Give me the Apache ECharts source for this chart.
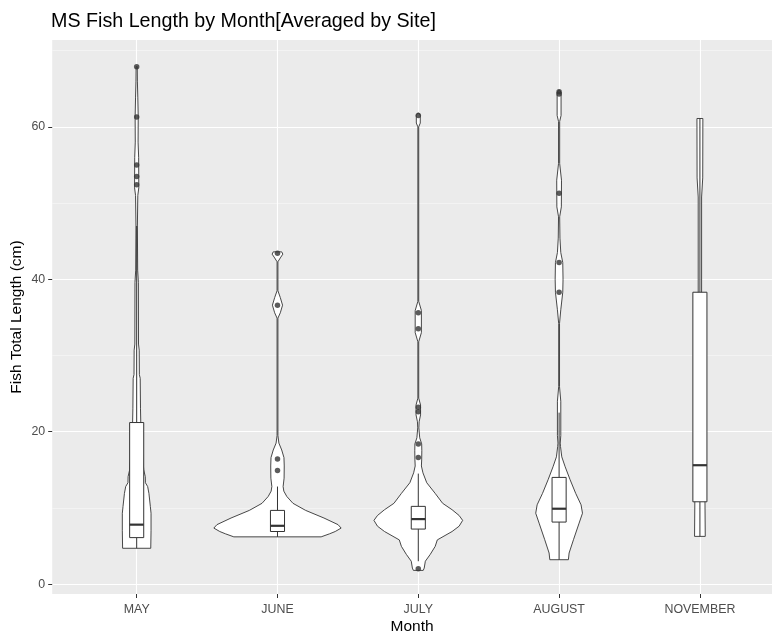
<!DOCTYPE html>
<html>
<head>
<meta charset="utf-8">
<script src="https://cdn.jsdelivr.net/npm/echarts@6/dist/echarts.min.js"></script>
<style>
html,body{margin:0;padding:0;background:#fff;}
#chart{width:772px;height:635px;}
</style>
</head>
<body>
<div id="chart"></div>
<script>
// ---- data ----
const months = ['MAY', 'JUNE', 'JULY', 'AUGUST', 'NOVEMBER'];
const yMajorTicks = [0, 20, 40, 60];
const yMinorTicks = [10, 30, 50, 70];

// violin outlines: [length (cm), half width in category units]
const mayViolin = [[4.7,0.100],[7,0.102],[9.3,0.102],[10.2,0.097],[11.9,0.087],[12.8,0.078],[13.3,0.062],[14.1,0.061],[15,0.05],[17,0.042],[19,0.035],[21.2,0.029],[23,0.027],[27,0.025],[27.5,0.019],[30.7,0.018],[31.5,0.013],[39.6,0.012],[41.2,0.007],[47,0.005],[51,0.008],[52,0.015],[56,0.014],[58,0.010],[61.3,0.011],[63.9,0.008],[66,0.005],[67.9,0.004]];
const juneViolin = [[6.2,0.31],[6.6,0.37],[6.9,0.41],[7.35,0.452],[7.8,0.43],[8.67,0.33],[9.67,0.2],[10.6,0.11],[11.5,0.066],[12.2,0.045],[12.8,0.040],[13.9,0.047],[15.5,0.048],[16.6,0.046],[17.6,0.03],[18.5,0.01],[19.5,0.003],[34.9,0.003],[35.6,0.02],[36.6,0.036],[37.6,0.02],[38.5,0.003],[42.3,0.003],[42.8,0.02],[43.3,0.038],[43.6,0.03]];
const julyViolin = [[1.8,0.035],[2.1,0.042],[3.0,0.05],[3.9,0.085],[4.95,0.12],[5.8,0.135],[6.9,0.24],[7.6,0.29],[8.36,0.315],[9.0,0.29],[9.76,0.24],[10.6,0.173],[11.9,0.12],[13.3,0.06],[14.6,0.033],[15.5,0.022],[16.3,0.024],[17.5,0.025],[18.4,0.024],[19.2,0.01],[20.5,0.004],[21.3,0.006],[22.2,0.016],[23.5,0.016],[24.4,0.003],[31.8,0.003],[33,0.022],[35.9,0.022],[37.1,0.003],[60.0,0.003],[60.5,0.014],[61.5,0.014],[61.8,0.005]];
const augustViolin = [[3.2,0.066],[4.08,0.071],[5.82,0.102],[8.0,0.142],[9.3,0.166],[10.4,0.156],[11.9,0.118],[13.7,0.078],[15.4,0.043],[16.7,0.019],[18.06,0.01],[18.5,0.008],[19.5,0.012],[24,0.012],[25.9,0.003],[34.2,0.003],[36,0.012],[38.3,0.026],[40,0.028],[42.2,0.026],[43.5,0.012],[45.4,0.006],[48.2,0.004],[49.5,0.016],[53,0.017],[55.2,0.004],[60.7,0.004],[61.5,0.014],[64.5,0.014],[64.8,0.005]];
const novemberViolin = [[6.26,0.038],[10.8,0.036],[20,0.025],[30,0.015],[38.3,0.012],[50.8,0.012],[53.3,0.02],[61.1,0.021]];

// box plot statistics
const whiskerLow  = [4.7, 6.2, 3.0, 3.2, 6.26];
const boxQ1       = [6.1, 6.9, 7.22, 8.14, 10.8];
const boxMedian   = [7.8, 7.65, 8.53, 9.89, 15.6];
const boxQ3       = [21.2, 9.67, 10.2, 14.0, 38.3];
const whiskerHigh = [47, 12.8, 14.5, 22.5, 61.1];

// outliers
const mayOutliers = [52.4, 53.5, 55.0, 61.3, 67.9];
const juneOutliers = [14.9, 16.4, 36.6, 43.4];
const julyOutliers = [2.0, 16.6, 18.4, 22.6, 23.2, 33.5, 35.6, 61.5];
const augustOutliers = [38.3, 42.2, 51.3, 64.3, 64.6];
const novemberOutliers = [];

// ---- build ----
const violins = [mayViolin, juneViolin, julyViolin, augustViolin, novemberViolin];
const outlierSets = [mayOutliers, juneOutliers, julyOutliers, augustOutliers, novemberOutliers];
const boxData = months.map((m, i) => [i, whiskerLow[i], boxQ1[i], boxMedian[i], boxQ3[i], whiskerHigh[i]]);
const outlierData = [];
outlierSets.forEach((arr, i) => arr.forEach(v => outlierData.push([i, v])));

const INK = '#333333';
const FONT = "'Liberation Sans', Arial, Helvetica, sans-serif";
const BOX_HALF = 0.05;

function renderViolin(params, api) {
  const i = api.value(0);
  const prof = violins[i];
  const right = prof.map(p => api.coord([i + p[1], p[0]]));
  const left = prof.slice().reverse().map(p => api.coord([i - p[1], p[0]]));
  return {
    type: 'polygon',
    shape: { points: right.concat(left) },
    style: { fill: '#ffffff', stroke: INK, lineWidth: 0.9 }
  };
}

function renderBox(params, api) {
  const i = api.value(0);
  const lo = api.coord([i, api.value(1)]);
  const q1 = api.coord([i, api.value(2)]);
  const md = api.coord([i, api.value(3)]);
  const q3 = api.coord([i, api.value(4)]);
  const hi = api.coord([i, api.value(5)]);
  const xl = api.coord([i - BOX_HALF, 0])[0];
  const xr = api.coord([i + BOX_HALF, 0])[0];
  const lineStyle = { stroke: INK, lineWidth: 1 };
  return {
    type: 'group',
    children: [
      { type: 'line', shape: { x1: lo[0], y1: lo[1], x2: q1[0], y2: q1[1] }, style: lineStyle },
      { type: 'line', shape: { x1: q3[0], y1: q3[1], x2: hi[0], y2: hi[1] }, style: lineStyle },
      { type: 'rect', shape: { x: xl, y: q3[1], width: xr - xl, height: q1[1] - q3[1] },
        style: { fill: '#ffffff', stroke: INK, lineWidth: 1 } },
      { type: 'line', shape: { x1: xl, y1: md[1], x2: xr, y2: md[1] }, style: { stroke: INK, lineWidth: 2.2 } }
    ]
  };
}

const chart = echarts.init(document.getElementById('chart'), null, { renderer: 'canvas' });
chart.setOption({
  animation: false,
  backgroundColor: '#ffffff',
  title: {
    text: 'MS Fish Length by Month[Averaged by Site]',
    left: 51, top: 12, padding: 0,
    textStyle: { fontFamily: FONT, fontSize: 19.7, fontWeight: 'normal', color: '#000' }
  },
  grid: {
    left: 52.2, top: 40, right: 0, height: 554,
    show: true, backgroundColor: '#EBEBEB', borderWidth: 0,
    containLabel: false, outerBoundsMode: 'none'
  },
  xAxis: {
    type: 'value', min: -0.6, max: 4.512,
    name: 'Month', nameLocation: 'middle', nameGap: 25, nameMoveOverlap: false,
    nameTextStyle: { fontFamily: FONT, fontSize: 15.5, color: '#000' },
    axisLine: { show: false, onZero: false },
    axisTick: { show: true, length: 4, lineStyle: { color: INK, width: 1 }, customValues: [0, 1, 2, 3, 4] },
    axisLabel: { show: true, margin: 10, color: '#4D4D4D', fontFamily: FONT, fontSize: 12.4,
      customValues: [0, 1, 2, 3, 4], formatter: v => months[Math.round(v)] },
    splitLine: { show: true, lineStyle: { color: '#ffffff', width: 1.1 } },
    minorSplitLine: { show: false }
  },
  yAxis: [{
    type: 'value', min: -1.3, max: 71.4,
    name: 'Fish Total Length (cm)', nameLocation: 'middle', nameGap: 27, nameRotate: 90, nameMoveOverlap: false,
    nameTextStyle: { fontFamily: FONT, fontSize: 15.5, color: '#000' },
    axisLine: { show: false, onZero: false },
    axisTick: { show: true, length: 4, lineStyle: { color: INK, width: 1 }, customValues: yMajorTicks },
    axisLabel: { show: true, margin: 7, color: '#4D4D4D', fontFamily: FONT, fontSize: 12.4, customValues: yMajorTicks },
    splitLine: { show: true, lineStyle: { color: '#ffffff', width: 1.1 } }
  }, {
    type: 'value', min: -1.3, max: 71.4, position: 'left',
    axisLine: { show: false, onZero: false },
    axisTick: { show: false, customValues: yMinorTicks },
    axisLabel: { show: false, customValues: yMinorTicks },
    splitLine: { show: true, lineStyle: { color: '#F7F7F7', width: 0.7 } }
  }],
  series: [
    {
      type: 'custom', name: 'violin', renderItem: renderViolin,
      data: months.map((m, i) => [i]), encode: { x: 0 }, z: 2, silent: true
    },
    {
      type: 'custom', name: 'box', renderItem: renderBox,
      data: boxData, encode: { x: 0, y: [1, 2, 3, 4, 5] }, z: 3, silent: true
    },
    {
      type: 'scatter', name: 'outliers', data: outlierData, symbol: 'circle', symbolSize: 5.5,
      itemStyle: { color: INK }, z: 4, silent: true
    }
  ]
});
</script>
</body>
</html>
